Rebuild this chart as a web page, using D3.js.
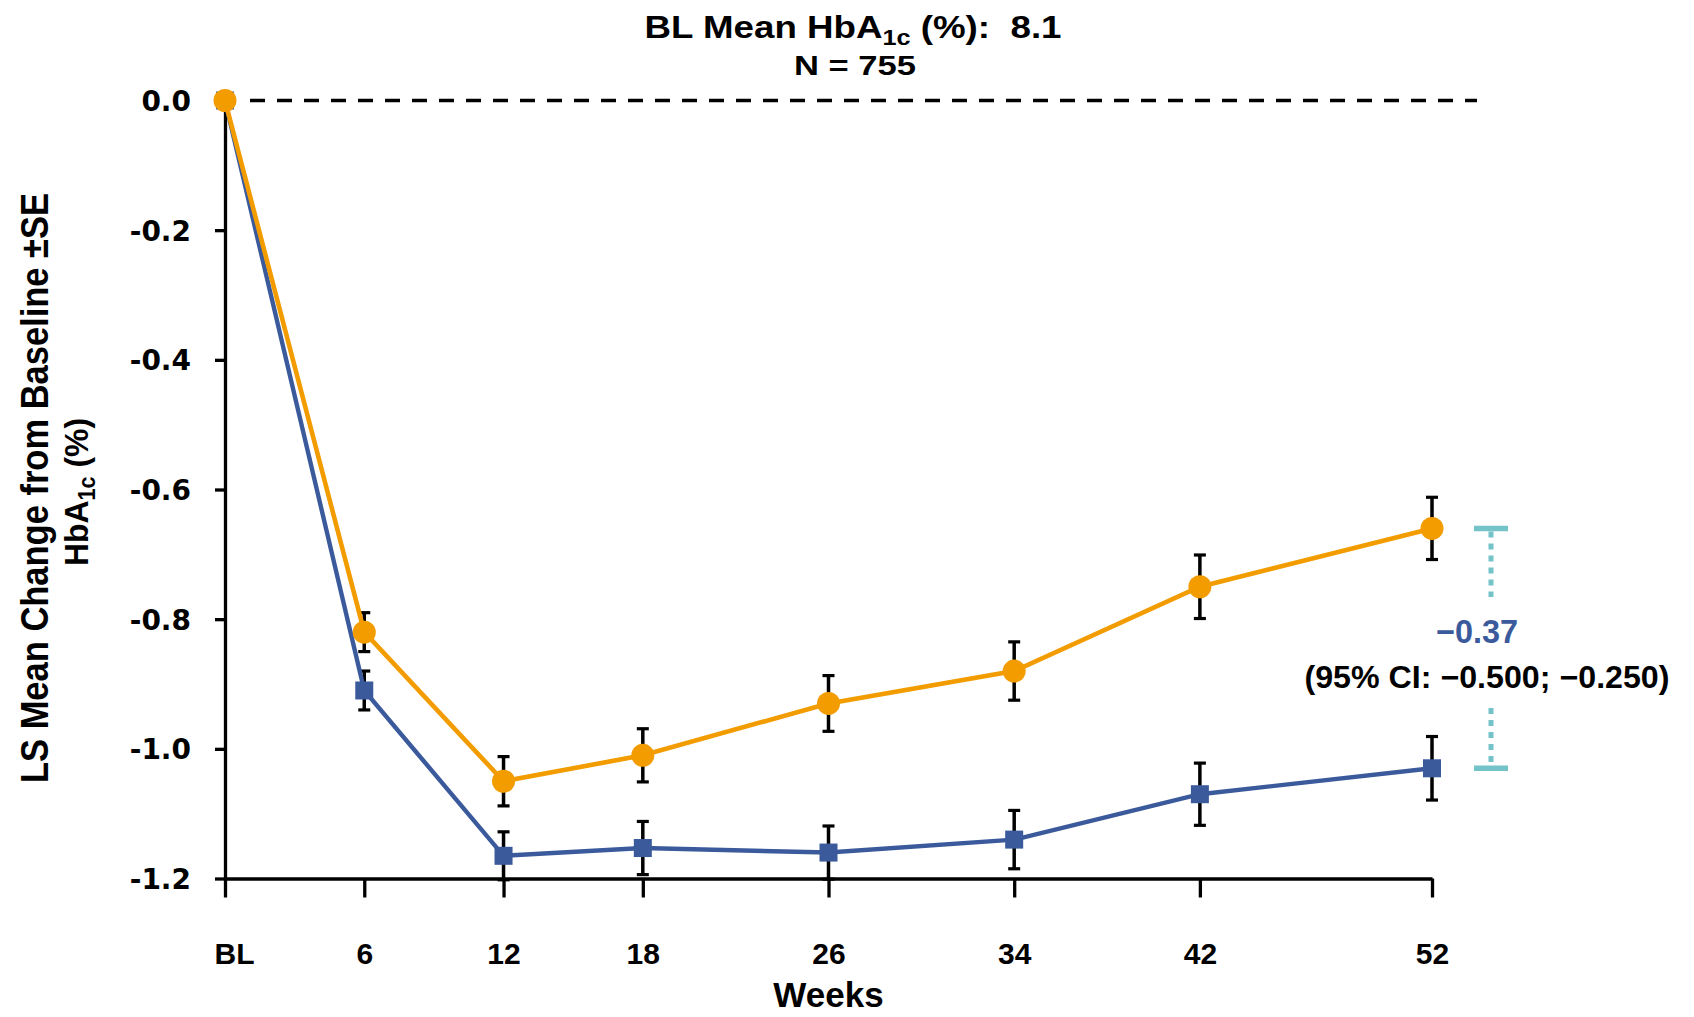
<!DOCTYPE html>
<html>
<head>
<meta charset="utf-8">
<script src="https://cdn.jsdelivr.net/npm/d3@7"></script>
<style>
  body { margin: 0; background: #fff; }
  text { font-family: "Liberation Sans", Arial, sans-serif; font-weight: bold; white-space: pre; }
</style>
</head>
<body>
<script>
// data
var weeks = [0, 6, 12, 18, 26, 34, 42, 52];
var weekLabels = ["BL", "6", "12", "18", "26", "34", "42", "52"];
var orangeMean = [0, -0.82, -1.05, -1.01, -0.93, -0.88, -0.75, -0.66];
var orangeSE   = [0, 0.030, 0.038, 0.041, 0.043, 0.045, 0.049, 0.048];
var blueMean   = [0, -0.91, -1.165, -1.153, -1.16, -1.14, -1.07, -1.03];
var blueSE     = [0, 0.030, 0.037, 0.041, 0.041, 0.045, 0.048, 0.049];
var yTicks = [0, -0.2, -0.4, -0.6, -0.8, -1.0, -1.2];
var diffLabel = "\u22120.37";
var ciLabel = "(95% CI: \u22120.500; \u22120.250)";

var W = 1694, H = 1017;
var orange = "#f29c00", blue = "#3b5a9c", teal = "#74c3c8";

var svg = d3.select("body").append("svg")
    .attr("width", W)
    .attr("height", H);

var x = d3.scaleLinear().domain([0, 52]).range([225, 1432]);
var y = d3.scaleLinear().domain([-1.2, 0]).range([878.5, 100.5]);

// zero reference line
svg.append("line")
    .attr("x1", x(0) + 25).attr("x2", 1477)
    .attr("y1", y(0)).attr("y2", y(0))
    .attr("stroke", "#000").attr("stroke-width", 3.5)
    .attr("stroke-dasharray", "15,12");

// axes
var xAxis = svg.append("g")
    .attr("transform", "translate(0," + y(-1.2) + ")")
    .call(d3.axisBottom(x).tickValues(weeks).tickSize(19).tickSizeOuter(0)
        .tickFormat(function(d, i) { return weekLabels[i]; }));
xAxis.selectAll("text")
    .attr("y", 85).attr("dy", 0)
    .attr("dx", function(d, i) { return i === 0 ? 9 : 0; })
    .style("font-size", "30px").attr("fill", "#000");

var yAxis = svg.append("g")
    .attr("transform", "translate(" + x(0) + ",0)")
    .call(d3.axisLeft(y).tickValues(yTicks).tickSize(10).tickPadding(24).tickSizeOuter(0)
        .tickFormat(function(d) { return d.toFixed(1); }));
yAxis.selectAll("text")
    .attr("dy", "0.36em")
    .style("font-family", "'DejaVu Sans', sans-serif")
    .style("font-size", "28px").attr("fill", "#000");

svg.selectAll(".domain, .tick line")
    .attr("stroke", "#000").attr("stroke-width", 3.3);

// error bars
function drawBars(mean, se) {
  var g = svg.append("g");
  weeks.forEach(function(w, i) {
    if (!se[i]) return;
    var cx = x(w), y1 = y(mean[i] + se[i]), y2 = y(mean[i] - se[i]);
    g.append("line").attr("x1", cx).attr("x2", cx).attr("y1", y1).attr("y2", y2)
      .attr("stroke", "#000").attr("stroke-width", 3.5);
    [y1, y2].forEach(function(yy) {
      g.append("line").attr("x1", cx - 6).attr("x2", cx + 6).attr("y1", yy).attr("y2", yy)
        .attr("stroke", "#000").attr("stroke-width", 3.2);
    });
  });
}
drawBars(blueMean, blueSE);
drawBars(orangeMean, orangeSE);

var line = d3.line()
    .x(function(d) { return x(d[0]); })
    .y(function(d) { return y(d[1]); });

svg.append("path")
    .datum(d3.zip(weeks, blueMean))
    .attr("d", line)
    .attr("fill", "none").attr("stroke", blue).attr("stroke-width", 4.4);

svg.selectAll(".sq")
    .data(d3.zip(weeks, blueMean))
  .enter().append("rect")
    .attr("x", function(d) { return x(d[0]) - 9; })
    .attr("y", function(d) { return y(d[1]) - 9; })
    .attr("width", 18).attr("height", 18)
    .attr("fill", blue);

svg.append("path")
    .datum(d3.zip(weeks, orangeMean))
    .attr("d", line)
    .attr("fill", "none").attr("stroke", orange).attr("stroke-width", 4.6);

svg.selectAll(".dot")
    .data(d3.zip(weeks, orangeMean))
  .enter().append("circle")
    .attr("cx", function(d) { return x(d[0]); })
    .attr("cy", function(d) { return y(d[1]); })
    .attr("r", 11.5)
    .attr("fill", orange);

// difference bracket at week 52
var bx = 1491;
var yTop = y(orangeMean[7]), yBot = y(blueMean[7]);
[yTop, yBot].forEach(function(yy) {
  svg.append("line").attr("x1", bx - 17).attr("x2", bx + 17).attr("y1", yy).attr("y2", yy)
    .attr("stroke", teal).attr("stroke-width", 5.5);
});
svg.append("line").attr("x1", bx).attr("x2", bx).attr("y1", yTop + 3).attr("y2", 597)
  .attr("stroke", teal).attr("stroke-width", 5).attr("stroke-dasharray", "6,6");
svg.append("line").attr("x1", bx).attr("x2", bx).attr("y1", 708).attr("y2", yBot - 3)
  .attr("stroke", teal).attr("stroke-width", 5).attr("stroke-dasharray", "6,6");

svg.append("text")
    .attr("x", 1477).attr("y", 643)
    .attr("text-anchor", "middle")
    .attr("fill", blue)
    .style("font-size", "33px")
    .attr("textLength", 82).attr("lengthAdjust", "spacingAndGlyphs")
    .text(diffLabel);
svg.append("text")
    .attr("x", 1487).attr("y", 688)
    .attr("text-anchor", "middle")
    .attr("fill", "#000")
    .style("font-size", "31px")
    .attr("textLength", 365).attr("lengthAdjust", "spacingAndGlyphs")
    .text(ciLabel);

// title
var t1 = svg.append("text")
    .attr("x", 853).attr("y", 38)
    .attr("text-anchor", "middle")
    .style("font-size", "32px")
    .attr("textLength", 417).attr("lengthAdjust", "spacingAndGlyphs");
t1.append("tspan").text("BL Mean HbA");
t1.append("tspan").attr("dy", 7).style("font-size", "22px").text("1c");
t1.append("tspan").attr("dy", -7).text(" (%):  8.1");

svg.append("text")
    .attr("x", 855).attr("y", 75)
    .attr("text-anchor", "middle")
    .style("font-size", "28px")
    .attr("textLength", 122).attr("lengthAdjust", "spacingAndGlyphs")
    .text("N = 755");

// axis titles
svg.append("text")
    .attr("x", x(26)).attr("y", 1007)
    .attr("text-anchor", "middle")
    .style("font-size", "35px")
    .text("Weeks");

var yt = svg.append("g").attr("transform", "translate(0,488) rotate(-90)");
yt.append("text")
    .attr("x", 0).attr("y", 48)
    .attr("text-anchor", "middle")
    .style("font-size", "38px")
    .attr("textLength", 590).attr("lengthAdjust", "spacingAndGlyphs")
    .text("LS Mean Change from Baseline \u00b1SE");
var yt2 = yt.append("text")
    .attr("x", -4).attr("y", 88)
    .attr("text-anchor", "middle")
    .style("font-size", "34px")
    .attr("textLength", 148).attr("lengthAdjust", "spacingAndGlyphs");
yt2.append("tspan").text("HbA");
yt2.append("tspan").attr("dy", 7).style("font-size", "23px").text("1c");
yt2.append("tspan").attr("dy", -7).text(" (%)");
</script>
</body>
</html>
